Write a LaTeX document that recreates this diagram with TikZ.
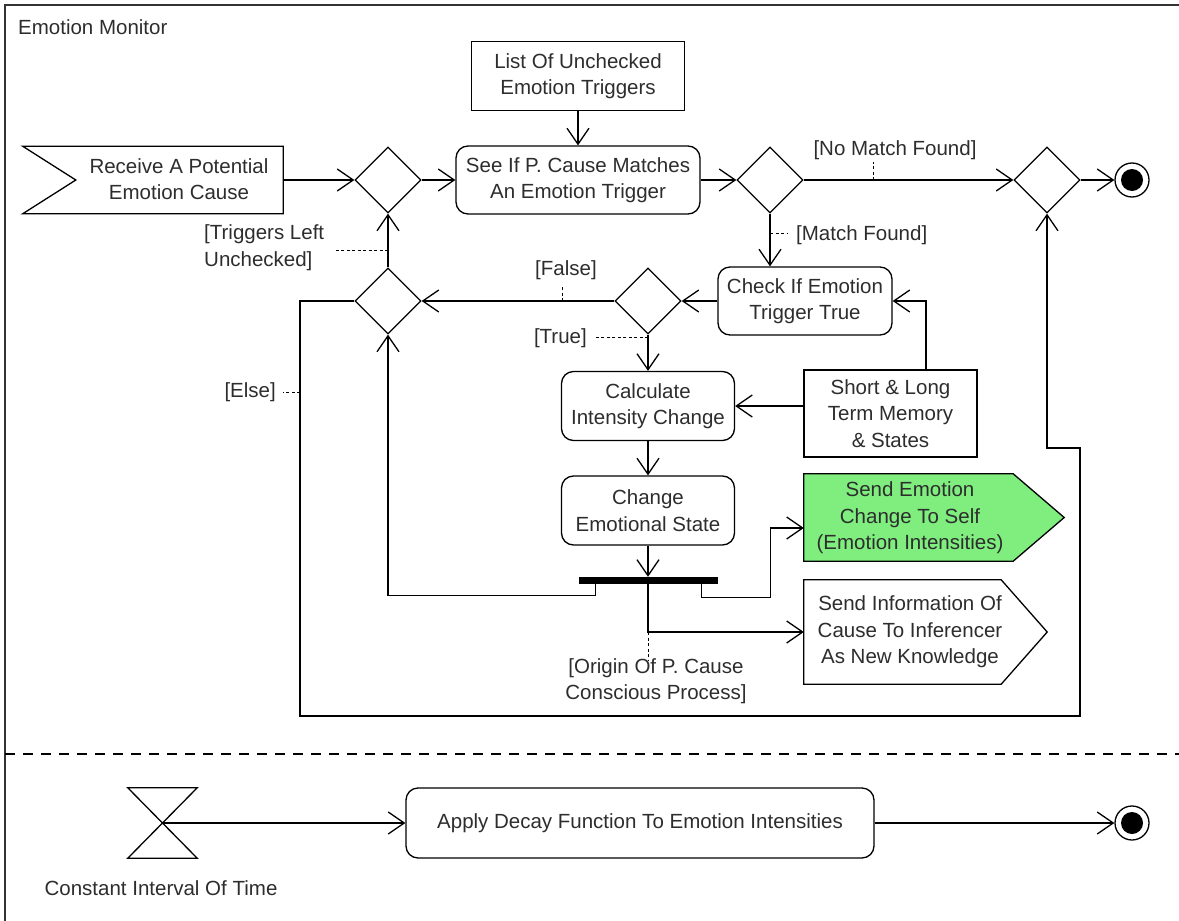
\documentclass[tikz,border=0pt]{standalone}
\usepackage{fontspec}
\setmainfont{Liberation Sans}
\usetikzlibrary{arrows.meta,shapes.geometric,calc}
\definecolor{txt}{RGB}{45,45,45}
\definecolor{sigfill}{RGB}{127,238,127}
\begin{document}
\begin{tikzpicture}[x=1pt,y=-1pt,
  lbl/.style={font=\fontsize{20.5}{26.5}\selectfont, text=txt, align=center, inner sep=0pt},
  box/.style={draw, line width=1.3pt, inner sep=0pt},
  act/.style={box, rounded corners=12pt},
  hole/.style={inner sep=0pt, draw=none},
  dec/.style={diamond, draw, line width=1.3pt, minimum width=66pt, minimum height=66pt, inner sep=0pt},
  flow/.style={draw, line width=1.3pt, -{Straight Barb[length=16pt,width=22pt]}},
  guard/.style={draw, line width=1pt, dash pattern=on 3pt off 2.5pt},
  endnode/.style={circle, draw, line width=1.3pt, minimum size=34pt, inner sep=0pt}]
\useasboundingbox (0,0) rectangle (1179,921);

% frame and separator
\draw[line width=2pt, black!80] (5,921) -- (5,5) -- (1179,5);
\node[lbl, anchor=west] (title) at (18,27) {Emotion Monitor};
\draw[line width=1.5pt, dash pattern=on 10pt off 8pt] (5,754) -- (1179,754);

% upper activity
\node[hole, minimum width=260pt, minimum height=67pt] (recv) at (153,180) {};
\draw[line width=1.3pt] (recv.north west) -- (recv.north east) -- (recv.south east)
  -- (recv.south west) -- ($(recv.west)+(53,0)$) -- cycle;
\node[lbl] (recvtxt) at (179,179) {Receive A Potential\\Emotion Cause};

\node[dec] (d1) at (388,180) {};
\node[dec] (d2) at (388,301) {};
\node[dec] (d3) at (770,180) {};
\node[dec] (d4) at (1047,180) {};
\node[dec] (d5) at (648,301) {};

\node[box, lbl, minimum width=213pt, minimum height=69pt] (list) at (578,76) {List Of Unchecked\\Emotion Triggers};
\node[act, lbl, minimum width=244pt, minimum height=68pt] (seeif) at (578,180) {See If P. Cause Matches\\An Emotion Trigger};
\node[act, lbl, minimum width=174pt, minimum height=68pt] (check) at (805,301) {Check If Emotion\\Trigger True};
\node[act, lbl, minimum width=173pt, minimum height=69pt] (calc) at (648,406) {Calculate\\Intensity Change};
\node[box, lbl, minimum width=173pt, minimum height=87pt] (mem) at (890.5,413.5) {Short \& Long\\Term Memory\\\& States};
\node[act, lbl, minimum width=173pt, minimum height=69pt] (change) at (648,510.5) {Change\\Emotional State};
\node[fill=black, inner sep=0pt, minimum width=139pt, minimum height=7pt] (bar) at (648,580.5) {};

\node[hole, minimum width=260pt, minimum height=87pt] (green) at (934,517.5) {};
\filldraw[fill=sigfill, line width=1.3pt] (green.north west) -- ($(green.north east)+(-51,0)$)
  -- (green.east) -- ($(green.south east)+(-51,0)$) -- (green.south west) -- cycle;
\node[lbl] (greentxt) at (910,518) {Send Emotion\\Change To Self\\(Emotion Intensities)};

\node[hole, minimum width=243pt, minimum height=104pt] (info) at (925.5,632) {};
\draw[line width=1.3pt] (info.north west) -- ($(info.north east)+(-46,0)$)
  -- (info.east) -- ($(info.south east)+(-46,0)$) -- (info.south west) -- cycle;
\node[lbl] (infotxt) at (910,632) {Send Information Of\\Cause To Inferencer\\As New Knowledge};

\node[endnode] (end1) at (1132,180) {};
\fill (end1.center) circle (11pt);

% upper connectors
\draw[flow] (recv.east) -- (d1.west);
\draw[flow] (d1.east) -- (seeif.west);
\draw[flow] (list.south) -- (seeif.north);
\draw[flow] (seeif.east) -- (d3.west);
\draw[flow] (d3.east) -- (d4.west);
\draw[flow] (d4.east) -- (end1.west);
\draw[flow] (d3.south) -- (d3.south |- check.north);
\draw[flow] (check.west) -- (d5.east);
\draw[flow] (d5.west) -- (d2.east);
\draw[flow] (d2.north) -- (d1.south);
\draw[flow] (d5.south) -- (calc.north);
\draw[flow] (mem.west |- calc.east) -- (calc.east);
\draw[flow] ($(mem.north)+(35.5,0)$) |- (check.east);
\draw[flow] (calc.south) -- (change.north);
\draw[flow] (change.south) -- (bar.north);
\draw[flow] ($(bar.south west)+(17,0)$) -- ++(0,11) -| (d2.south);
\draw[flow] ($(bar.south east)+(-16,0)$) -- ++(0,13) -- ++(69,0) |- ($(green.west)+(0,10.5)$);
\draw[flow] (bar.south) |- (info.west);
\draw[flow] (d2.west) -| (300,716) -| (1080,448) -| (d4.south);

% guards
\node[lbl, anchor=south] (gnomatch) at (895,160) {[No Match Found]};
\draw[guard] (873,180) -- (873,162);
\node[lbl, anchor=west] (gmatch) at (796,235) {[Match Found]};
\draw[guard] (770,233) -- (788,233);
\node[lbl] (gfalse) at (566,270) {[False]};
\draw[guard] (562,301) -- (562,286);
\node[lbl, anchor=east] (gtrue) at (587,338) {[True]};
\draw[guard] (648,337) -- (595,337);
\node[lbl, anchor=west, align=left] (gleft) at (204,247.5) {[Triggers Left\\Unchecked]};
\draw[guard] (388,250) -- (335,250);
\node[lbl, anchor=east] (gelse) at (276,392) {[Else]};
\draw[guard] (300,392) -- (283,392);
\node[lbl] (gorigin) at (656,681) {[Origin Of P. Cause\\Conscious Process]};
\draw[guard] (bar.south |- info.west) -- ++(0,28);

% lower activity
\node[hole, minimum width=69pt, minimum height=70pt] (timer) at (162.5,823) {};
\draw[line width=1.3pt] (timer.north west) -- (timer.north east) -- (timer.south west)
  -- (timer.south east) -- cycle;
\node[lbl] (timertxt) at (161,888) {Constant Interval Of Time};
\node[act, lbl, minimum width=468pt, minimum height=70pt] (apply) at (640,823) {Apply Decay Function To Emotion Intensities};
\node[endnode] (end2) at (1132,823) {};
\fill (end2.center) circle (11pt);
\draw[flow] (timer.center) -- (apply.west);
\draw[flow] (apply.east) -- (end2.west);
\end{tikzpicture}
\end{document}
